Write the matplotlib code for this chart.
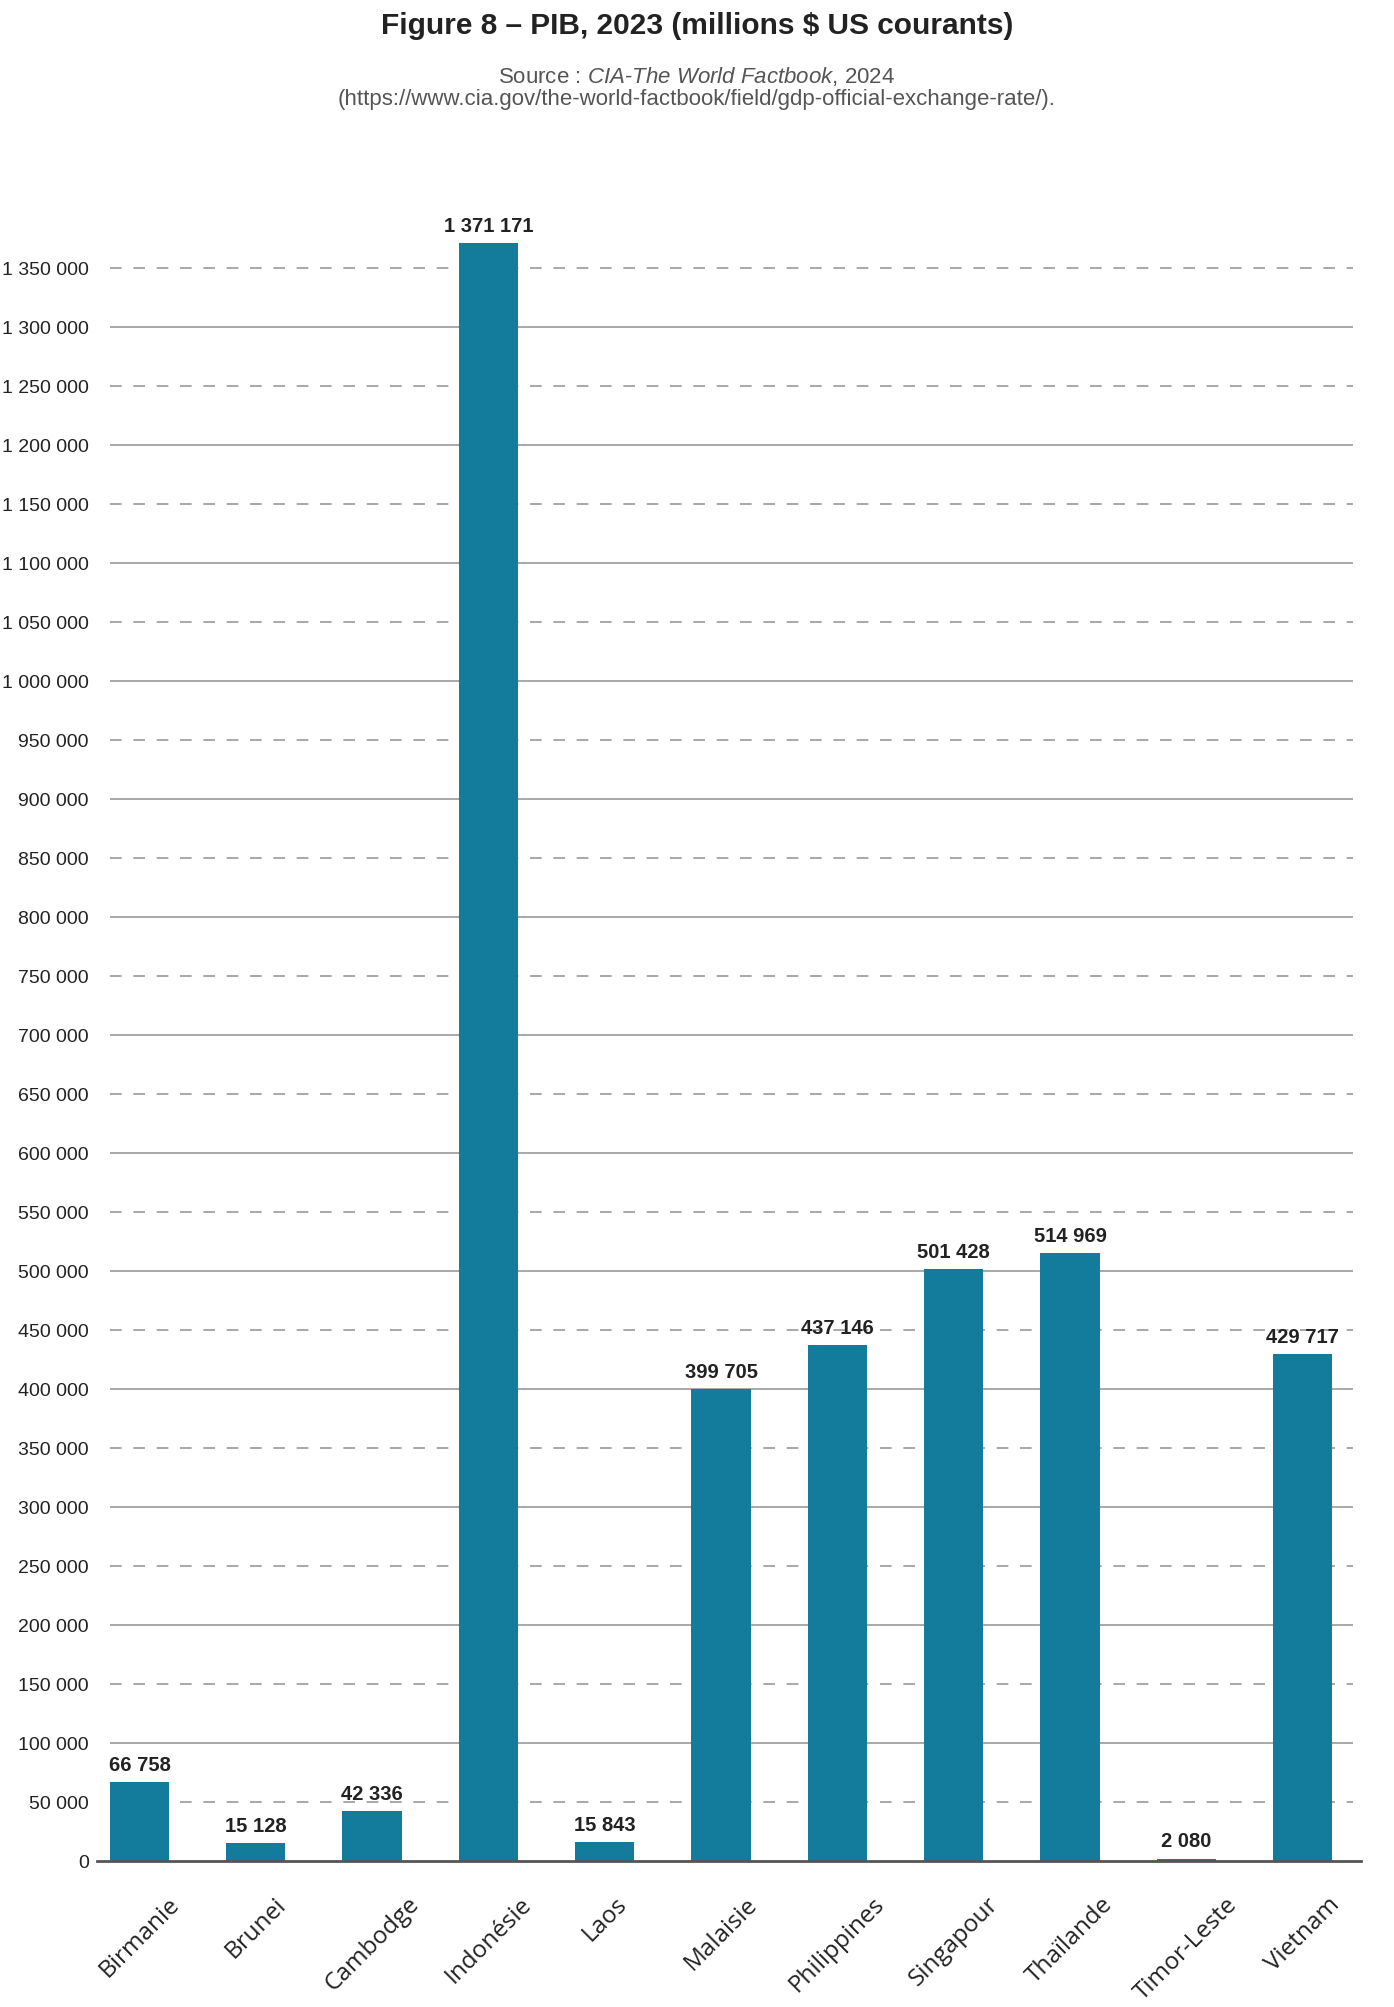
import numpy as np
import matplotlib.pyplot as plt

plt.rcParams['mathtext.fontset'] = 'custom'
plt.rcParams['mathtext.rm'] = 'Liberation Sans'
plt.rcParams['mathtext.it'] = 'Liberation Sans:italic'

pays = ['Birmanie', 'Brunei', 'Cambodge', 'Indonésie', 'Laos', 'Malaisie',
        'Philippines', 'Singapour', 'Thaïlande', 'Timor-Leste', 'Vietnam']
pib = [66758, 15128, 42336, 1371171, 15843, 399705, 437146, 501428, 514969, 2080, 429717]
y_ticks = list(range(0, 1350001, 50000))

BarColor = '#137b9c'
TextColor = '#222222'
narrow = 'Liberation Sans'


def fmt(v):
    return f'{v:,}'.replace(',', ' ')


fig = plt.figure(figsize=(13.94, 20.08), dpi=100)
ax = fig.add_axes([97 / 1394, 146 / 2008, (1361 - 97) / 1394, (1862 - 210) / 2008])

x = np.arange(len(pays))
ax.bar(x, pib, width=0.51, color=BarColor, zorder=3)

# gridlines: solid every 100 000, dashed in between
for t in y_ticks[1:]:
    if t % 100000 == 0:
        ax.hlines(t, -0.25, 10.43, color='#9a9a9a', lw=1.2, zorder=1)
    else:
        ax.hlines(t, -0.25, 10.43, color='#9a9a9a', lw=1.2, ls=(0, (7, 7)), zorder=1)

for xi, v in zip(x, pib):
    ax.text(xi, v + 7000, fmt(v), ha='center', va='bottom', fontsize=14.5,
            fontweight='bold', family=narrow, color=TextColor)

ax.set_xlim(-0.365, 10.5)
ax.set_ylim(0, 1400000)
ax.set_yticks(y_ticks)
ax.set_yticklabels([fmt(t) for t in y_ticks], family=narrow, fontsize=14, color=TextColor)
ax.set_xticks(x)
ax.set_xticklabels(pays, rotation=45, ha='center', fontsize=17.5, family='Open Sans', color=TextColor)
ax.tick_params(axis='y', length=0, pad=6)
ax.tick_params(axis='x', length=0, pad=22)

for s in ['left', 'right', 'top']:
    ax.spines[s].set_visible(False)
ax.spines['bottom'].set_color('#555555')
ax.spines['bottom'].set_linewidth(2)
ax.spines['bottom'].set_zorder(4)

fig.text(0.5, 1 - 26 / 2008, 'Figure 8 – PIB, 2023 (millions $ US courants)', ha='center', va='center',
         fontsize=21.5, fontweight='bold', family=narrow, color=TextColor)
fig.text(0.5, 1 - 77 / 2008, 'Source : $\\it{CIA}$-$\\it{The\\ World\\ Factbook}$, 2024', ha='center', va='center',
         fontsize=16, family=narrow, color='#555555')
fig.text(0.5, 1 - 100 / 2008, '(https://www.cia.gov/the-world-factbook/field/gdp-official-exchange-rate/).',
         ha='center', va='center', fontsize=16, family=narrow, color='#555555')

fig.savefig('out.png', dpi=100)
